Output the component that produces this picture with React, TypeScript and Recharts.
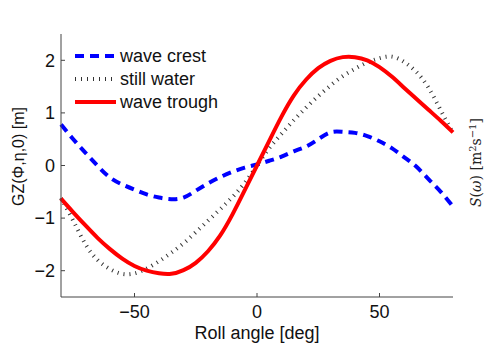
import { LineChart, Line, XAxis, YAxis, Legend } from "recharts";

// roll angle in degrees, 5 degree steps
const angles = [
  -80, -75, -70, -65, -60, -55, -50, -45, -40, -35, -30, -25, -20, -15, -10, -5,
  0, 5, 10, 15, 20, 25, 30, 35, 40, 45, 50, 55, 60, 65, 70, 75, 80,
];

// righting arm GZ [m]
const waveCrest = [
  0.78, 0.5, 0.24, -0.01, -0.23, -0.36, -0.46, -0.55, -0.61, -0.64, -0.61, -0.48, -0.34, -0.22, -0.12, -0.04,
  0.02, 0.09, 0.17, 0.27, 0.36, 0.5, 0.63, 0.64, 0.62, 0.56, 0.46, 0.33, 0.16, -0.02, -0.26, -0.5, -0.78,
];
const stillWater = [
  -0.62, -1.05, -1.5, -1.8, -1.97, -2.06, -2.05, -1.96, -1.82, -1.66, -1.48, -1.27, -1.05, -0.83, -0.6, -0.33,
  0.0, 0.33, 0.6, 0.86, 1.1, 1.32, 1.52, 1.7, 1.84, 1.96, 2.04, 2.07, 1.97, 1.78, 1.48, 1.05, 0.62,
];
const waveTrough = [
  -0.63, -0.89, -1.14, -1.38, -1.59, -1.77, -1.91, -2.0, -2.05, -2.06, -1.99, -1.85, -1.63, -1.33, -0.93, -0.47,
  0.0, 0.47, 0.93, 1.33, 1.63, 1.85, 1.99, 2.06, 2.06, 2.0, 1.87, 1.69, 1.48, 1.27, 1.06, 0.85, 0.63,
];

const xTicks = [-50, 0, 50];
const yTicks = [-2, -1, 0, 1, 2];

const data = angles.map((angle, i) => ({
  angle,
  crest: waveCrest[i],
  still: stillWater[i],
  trough: waveTrough[i],
}));

const FONT = "'Liberation Sans', Arial, Helvetica, sans-serif";
const AXIS = "#444";

const series = [
  { key: "crest", label: "wave crest", color: "#0000ff", width: 4, dash: "9 6" },
  { key: "still", label: "still water", color: "#333", width: 4, dash: "1 5" },
  { key: "trough", label: "wave trough", color: "#ff0000", width: 4, dash: undefined },
];

const minus = (v: number) => String(v).replace("-", "\u2212");

function GZLegend() {
  return (
    <svg width={180} height={72} style={{ display: "block" }}>
      {series.map((s, i) => {
        const y = 10 + i * 23;
        return (
          <g key={s.key}>
            <line x1={2} x2={43} y1={y} y2={y} stroke={s.color} strokeWidth={s.width} strokeDasharray={s.dash} />
            <text x={47} y={y + 6} fontSize={18} fontFamily={FONT} fill="#111">
              {s.label}
            </text>
          </g>
        );
      })}
    </svg>
  );
}

function GZTitle(props: any) {
  const { x, y, width, height } = props.viewBox;
  const cx = x + width - 37;
  const cy = y + height / 2 - 9;
  return (
    <text x={cx} y={cy} transform={`rotate(-90, ${cx}, ${cy})`} textAnchor="middle" fontSize={16} fontFamily={FONT} fill="#111">
      GZ(Φ,η,0) [m]
    </text>
  );
}

function SpectrumTitle(props: any) {
  const { x, y, height } = props.viewBox;
  const cx = x + 28;
  const cy = y + height / 2 - 3;
  return (
    <text x={cx} y={cy} transform={`rotate(-90, ${cx}, ${cy})`} textAnchor="middle" fontSize={14} fontFamily="'DejaVu Serif', serif" fill="#222">
      <tspan fontStyle="italic">S</tspan>(<tspan fontStyle="italic">ω</tspan>)  [m
      <tspan fontSize={10} dy={-5}>2</tspan>
      <tspan dy={5}>s</tspan>
      <tspan fontSize={10} dy={-5}>−1</tspan>
      <tspan dy={5}>]</tspan>
    </text>
  );
}

export default function App() {
  return (
    <div style={{ position: "absolute", left: 0, top: 0, width: 486, height: 349, background: "#fff" }}>
      <LineChart width={486} height={349} data={data} margin={{ top: 34, right: 32, bottom: 51, left: 60 }}>
        <XAxis
          type="number"
          dataKey="angle"
          domain={[-80, 80]}
          ticks={xTicks}
          interval={0}
          height={1}
          tickSize={-4}
          tickMargin={12}
          tickFormatter={minus}
          stroke={AXIS}
          tick={{ fill: "#111", fontSize: 18, fontFamily: FONT }}
          label={{ value: "Roll angle [deg]", position: "bottom", offset: 28, fill: "#111", fontSize: 18, fontFamily: FONT }}
        />
        <YAxis
          type="number"
          domain={[-2.5, 2.5]}
          ticks={yTicks}
          interval={0}
          width={1}
          tickSize={-4}
          tickMargin={10}
          tickFormatter={minus}
          stroke={AXIS}
          tick={{ fill: "#111", fontSize: 18, fontFamily: FONT }}
          label={<GZTitle />}
        />
        <YAxis
          yAxisId="spectrum"
          orientation="right"
          type="number"
          domain={[-2.5, 2.5]}
          width={1}
          tick={false}
          tickLine={false}
          axisLine={false}
          label={<SpectrumTitle />}
        />
        <Legend
          layout="vertical"
          align="center"
          verticalAlign="middle"
          wrapperStyle={{ left: 73, top: 46, width: 180 }}
          content={() => <GZLegend />}
        />
        {series.map((s) => (
          <Line
            key={s.key}
            type="natural"
            dataKey={s.key}
            stroke={s.color}
            strokeWidth={s.width}
            strokeDasharray={s.dash}
            dot={false}
            activeDot={false}
            isAnimationActive={false}
          />
        ))}
      </LineChart>
    </div>
  );
}
